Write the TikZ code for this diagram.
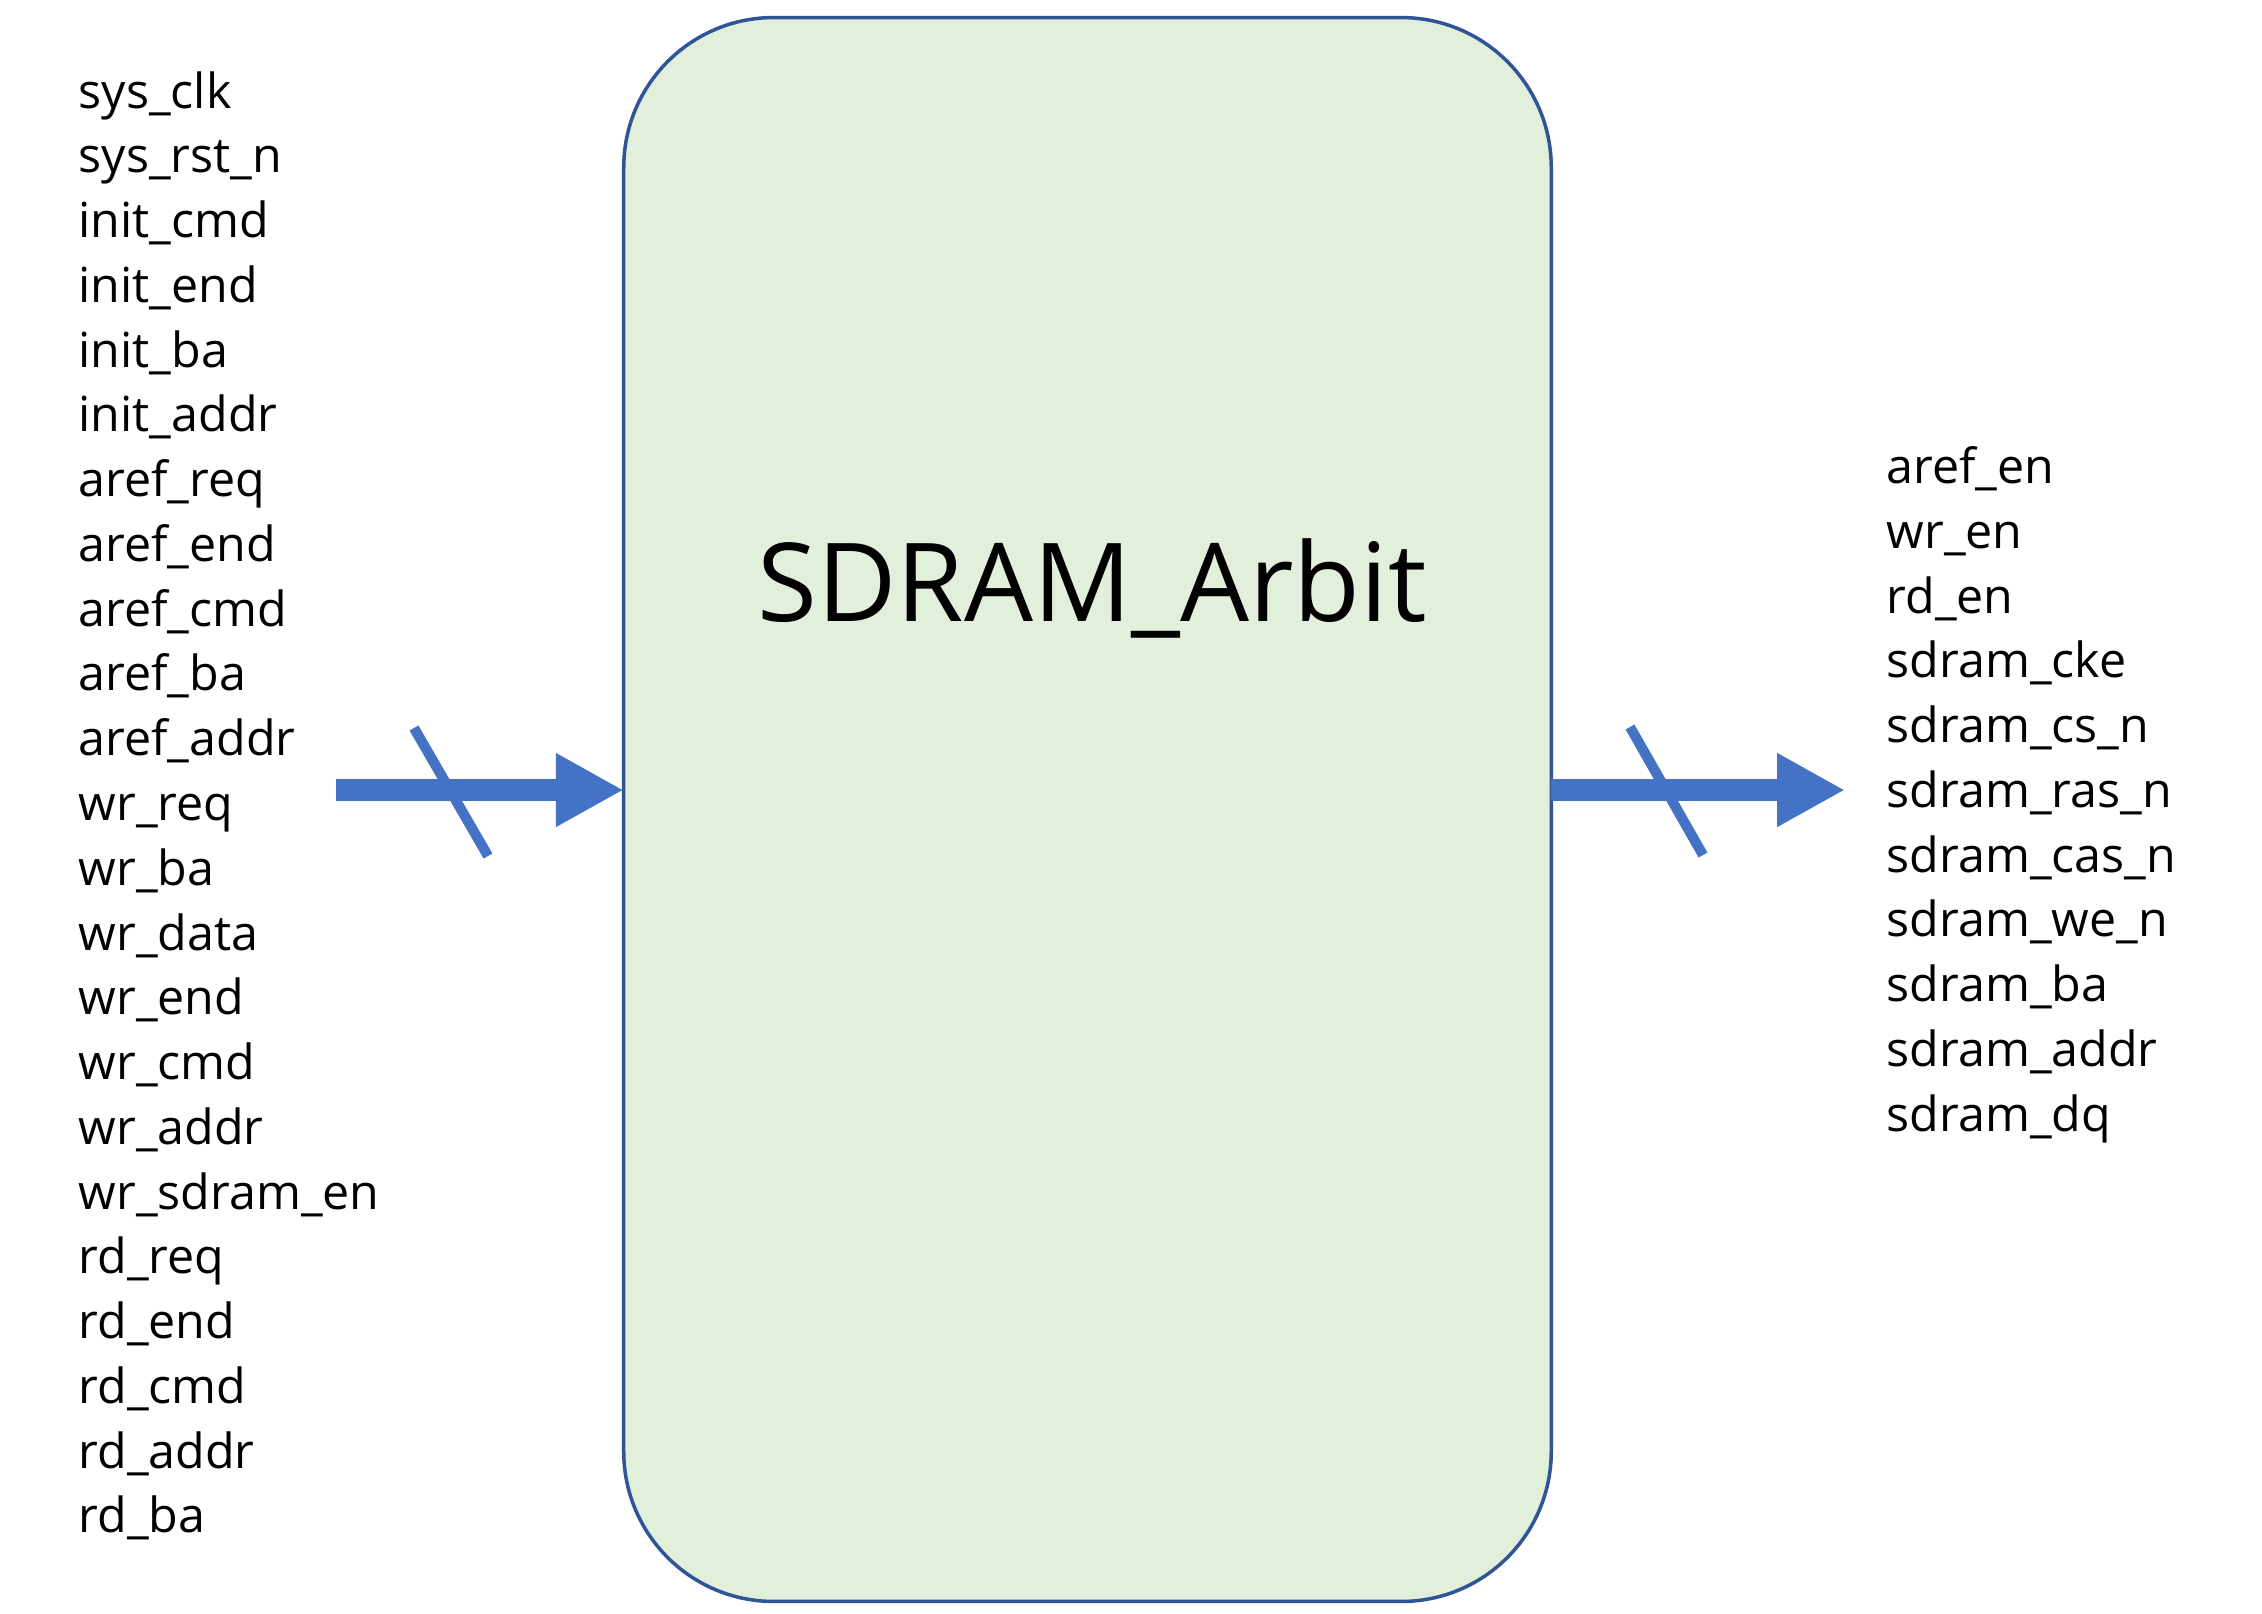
\documentclass[tikz,border=0pt]{standalone}
\usepackage{fontspec}
\setmainfont{Open Sans}
\usetikzlibrary{arrows.meta}
\definecolor{boxfill}{HTML}{E2EFDA}
\definecolor{boxline}{HTML}{2F5597}
\definecolor{arrblue}{HTML}{4472C4}
\begin{document}
\begin{tikzpicture}[x=0.01cm,y=-0.01cm,
  sig/.style={anchor=base west,inner sep=0pt,font=\fontsize{13.75}{16}\selectfont},
  busarrow/.style={draw=arrblue,line width=6.5pt,-{Triangle[length=19.3pt,width=19.6pt]}},
  busslash/.style={draw=arrblue,line width=2.9pt}]
\useasboundingbox (0,0) rectangle (2262,1614);
\node[draw=boxline,fill=boxfill,line width=1pt,rounded corners=1.5cm,outer sep=0pt,
  minimum width=9.27cm,minimum height=15.83cm,inner sep=0pt] (box) at (1087.5,809.5) {};
\node[anchor=base,inner sep=0pt,font=\fontsize{31}{36}\selectfont] (title) at (1092,621) {SDRAM\_Arbit};
\foreach \t [count=\i from 0] in {sys\_clk,sys\_rst\_n,init\_cmd,init\_end,init\_ba,init\_addr,aref\_req,aref\_end,aref\_cmd,aref\_ba,aref\_addr,wr\_req,wr\_ba,wr\_data,wr\_end,wr\_cmd,wr\_addr,wr\_sdram\_en,rd\_req,rd\_end,rd\_cmd,rd\_addr,rd\_ba}
  \node[sig] (in\i) at (78,108+64.77*\i) {\t};
\foreach \t [count=\i from 0] in {aref\_en,wr\_en,rd\_en,sdram\_cke,sdram\_cs\_n,sdram\_ras\_n,sdram\_cas\_n,sdram\_we\_n,sdram\_ba,sdram\_addr,sdram\_dq}
  \node[sig] (out\i) at (1886,483.5+64.77*\i) {\t};
\coordinate (lstart) at (336,790);
\coordinate (rend) at (1845,790);
\draw[busarrow] (lstart) -- (box.west|-lstart);
\draw[busarrow] (box.east|-rend) -- (rend);
\coordinate (ls1) at (414,728); \coordinate (ls2) at (488,856);
\coordinate (rs1) at (1630,727); \coordinate (rs2) at (1703,855);
\draw[busslash] (ls1) -- (ls2);
\draw[busslash] (rs1) -- (rs2);
\end{tikzpicture}
\end{document}
